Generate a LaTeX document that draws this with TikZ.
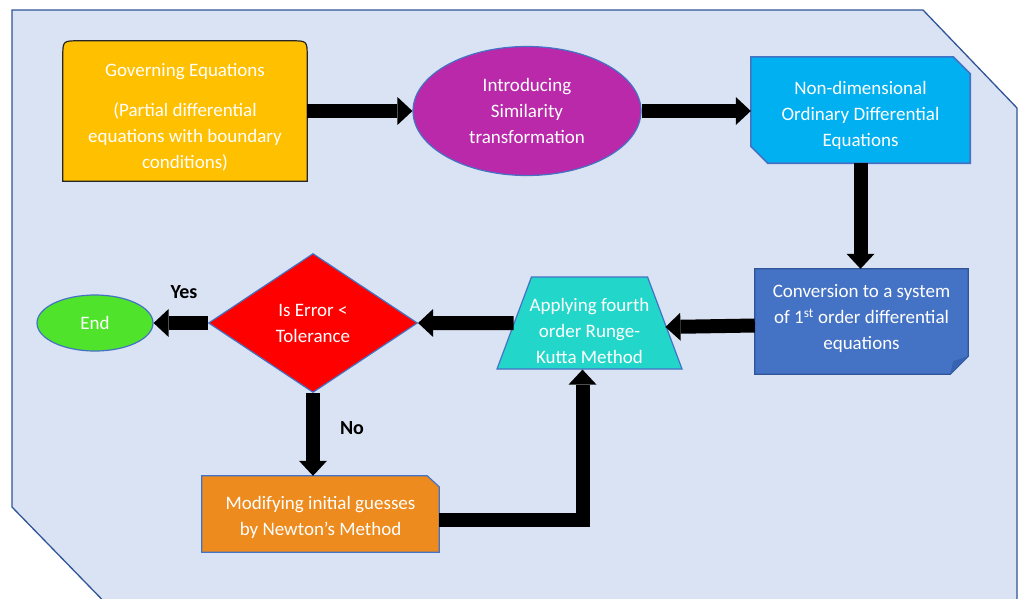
\documentclass[tikz,border=0pt]{standalone}
\usepackage{fontspec}
\setmainfont{Carlito}
\usetikzlibrary{shapes.geometric,arrows.meta}
\pgfdeclarelayer{back}
\pgfdeclarelayer{bg}
\pgfsetlayers{back,bg,main}
\definecolor{panel}{HTML}{DAE3F3}
\definecolor{panelline}{HTML}{2F5597}
\definecolor{govfill}{HTML}{FFC000}
\definecolor{simfill}{HTML}{B929AA}
\definecolor{ndfill}{HTML}{00B0F0}
\definecolor{edgeblue}{HTML}{4472C4}
\definecolor{convfill}{HTML}{4472C4}
\definecolor{convfold}{HTML}{3763B3}
\definecolor{rkfill}{HTML}{22D7CA}
\definecolor{endfill}{HTML}{50E32B}
\definecolor{modfill}{HTML}{ED8B1E}
\begin{document}
\begin{tikzpicture}[x=1pt,y=-1pt,
  lbl/.style={text=white, font=\fontsize{19}{26}\selectfont, align=center, inner sep=0pt},
  box/.style={inner sep=0pt},
  arr/.style={line width=14pt, line join=miter, -{Triangle[width=28pt,length=15pt,line width=0pt]}},
  tag/.style={font=\bfseries\fontsize{20}{24}\selectfont, text=black, inner sep=0pt},
  thinedge/.style={draw=edgeblue, line width=1.2pt}]
\useasboundingbox (0,0) rectangle (1025,598);
\begin{pgfonlayer}{back}
\begin{scope}
\clip (0,0) rectangle (1025,598);
\filldraw[fill=panel, draw=panelline, line width=1.3pt]
  (12,10) -- (923,10) -- (1017,108) -- (1017,620) -- (122,620) -- (12,507) -- cycle;
\end{scope}
\end{pgfonlayer}

% shape nodes
\node[box, minimum width=244pt, minimum height=140pt] (gov) at (185,111) {};
\node[lbl, ellipse, fill=simfill, thinedge, minimum width=228pt, minimum height=129pt] (sim) at (527,111)
  {Introducing\\Similarity\\transformation};
\node[box, minimum width=219pt, minimum height=106pt] (nd) at (860.5,110) {};
\node[box, minimum width=213pt, minimum height=105pt] (conv) at (861.5,321.5) {};
\node[box, trapezium, trapezium stretches=true, trapezium angle=76.5, fill=rkfill, thinedge,
  minimum width=185pt, minimum height=92pt] (rk) at (589.5,323) {\phantom{X}};
\node[lbl, diamond, aspect=1.5, fill=red, thinedge, minimum width=209pt, minimum height=139pt] (dia) at (313,323)
  {Is Error <\\Tolerance};
\node[lbl, ellipse, fill=endfill, thinedge, minimum width=116pt, minimum height=56pt] (end) at (95,323) {End};
\node[box, minimum width=237pt, minimum height=76pt] (mod) at (320.5,514) {};

% texts of the boxes
\node[lbl] (govtext) at ([yshift=-6pt]gov.center)
  {Governing Equations\\[14pt](Partial differential\\equations with boundary\\conditions)};
\node[lbl] (ndtext) at ([yshift=-5pt]nd.center)
  {Non-dimensional\\Ordinary Differential\\Equations};
\node[lbl] (convtext) at ([yshift=3pt]conv.center)
  {Conversion to a system\\of 1\textsuperscript{st} order differential\\equations};
\node[lbl] (rktext) at ([yshift=-8pt]rk.center)
  {Applying fourth\\order Runge-\\Kutta Method};
\node[lbl] (modtext) at ([yshift=-3pt]mod.center)
  {Modifying initial guesses\\by Newton’s Method};

% custom node outlines
\begin{pgfonlayer}{bg}
\filldraw[fill=govfill, draw=black!85, line width=1.2pt]
  (gov.south west) -- ([yshift=-16pt]gov.north west) .. controls (gov.north west) .. ([xshift=16pt]gov.north west)
  -- ([xshift=-16pt]gov.north east) .. controls (gov.north east) .. ([yshift=-16pt]gov.north east)
  -- (gov.south east) -- cycle;
\filldraw[fill=ndfill, thinedge, line width=1.6pt]
  (nd.north west) -- ([xshift=-17pt]nd.north east) -- ([yshift=-17pt]nd.north east)
  -- (nd.south east) -- ([xshift=17pt]nd.south west) -- ([yshift=17pt]nd.south west) -- cycle;
\filldraw[fill=convfill, draw=panelline, line width=1.2pt]
  (conv.north west) -- (conv.north east) -- ([yshift=18pt]conv.south east)
  -- ([xshift=-18pt]conv.south east) -- (conv.south west) -- cycle;
\fill[convfold] ([yshift=18pt]conv.south east) -- ([xshift=-18pt]conv.south east)
  -- ([xshift=-15pt,yshift=13pt]conv.south east) -- cycle;
\filldraw[fill=modfill, thinedge]
  (mod.north west) -- ([xshift=-12pt]mod.north east) -- ([yshift=-11pt]mod.north east)
  -- (mod.south east) -- (mod.south west) -- cycle;
\end{pgfonlayer}

% connectors
\draw[arr] (gov.east) -- (sim.west);
\draw[arr] (sim.east) -- (sim.east -| nd.west);
\draw[arr] (nd.south) -- (nd.south |- conv.north);
\draw[arr] ([yshift=-4pt]conv.west) -- ([yshift=-4pt]rk.east);
\draw[arr] (rk.west) -- (dia.east);
\draw[arr] (dia.west) -- (end.east);
\draw[arr] (dia.south) -- (dia.south |- mod.north);
\coordinate (bend) at ([xshift=-7pt]rk.south);
\draw[arr] ([yshift=-6pt]mod.east) -| (bend);

% labels
\node[tag] (yes) at (184,292) {Yes};
\node[tag] (no) at (352,428) {No};
\end{tikzpicture}
\end{document}
